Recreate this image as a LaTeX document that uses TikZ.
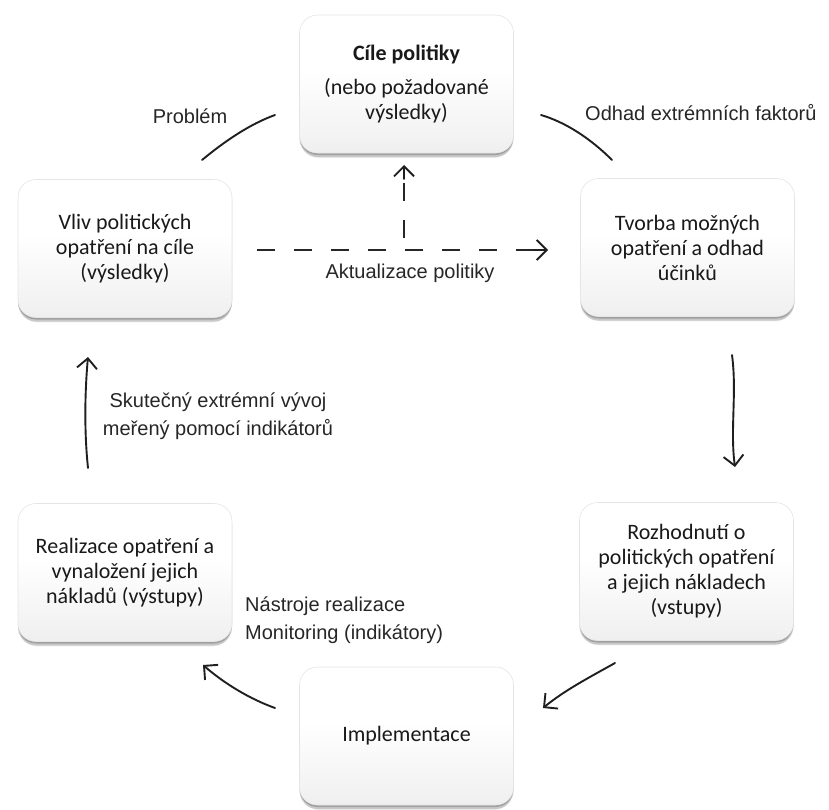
\documentclass[tikz,border=0pt]{standalone}
\usepackage{fontspec}
\setmainfont{Liberation Sans}
\newfontfamily\boxfont{Carlito}
\usetikzlibrary{arrows.meta,shadows,calc}
\pgfdeclareverticalshading{boxshade}{100bp}{color(0bp)=(black!14); color(30bp)=(black!5); color(55bp)=(white); color(100bp)=(white)}
\tikzset{
  cyclebox/.style={rounded corners=18pt, minimum width=214pt, minimum height=138pt,
    inner sep=0pt, align=center, text=black!90, draw=black!10, line width=0.6pt,
    shading=boxshade,
    font=\boxfont\fontsize{22}{25}\selectfont,
    drop shadow={shadow xshift=0pt, shadow yshift=-2pt, opacity=0.2, fill=black},
    drop shadow={shadow xshift=0pt, shadow yshift=-4pt, opacity=0.15, fill=black},
    drop shadow={shadow xshift=0pt, shadow yshift=-6pt, shadow scale=0.985, opacity=0.08, fill=black}},
  lbl/.style={font=\fontsize{20}{28}\selectfont, text=black!85, inner sep=0pt},
  conn/.style={line width=1.9pt, draw=black!88, line cap=round},
  tip/.style={-{Straight Barb[length=10pt,width=20pt,line width=1.9pt]}},
  dashline/.style={line width=1.9pt, draw=black!85, dash pattern=on 18pt off 19pt}
}
\begin{document}
\begin{tikzpicture}[x=1pt,y=-1pt]
\useasboundingbox (0,0) rectangle (829,809);

% boxes
\node[cyclebox] (goal) at (406.5,84) {\textbf{Cíle politiky}\\[9pt](nebo požadované\\výsledky)};
\node[cyclebox] (impact) at (125,248.5) {Vliv politických\\opatření na cíle\\(výsledky)};
\node[cyclebox] (create) at (687.5,247.5) {Tvorba možných\\opatření a odhad\\účinků};
\node[cyclebox] (realize) at (125,572.5) {Realizace opatření a\\vynaložení jejich\\nákladů (výstupy)};
\node[cyclebox] (decide) at (686.5,571.5) {Rozhodnutí o\\politických opatření\\a jejich nákladech\\(vstupy)};
\node[cyclebox] (impl) at (406.5,736) {Implementace};

% connector end points
\coordinate (p1) at (202,160);  \coordinate (p2) at (275,115);
\coordinate (o1) at (541,115);  \coordinate (o2) at (612,160);
\coordinate (r1) at (732,355);  \coordinate (r2) at (735,467);
\coordinate (d1) at (615,663);  \coordinate (d2) at (543,708);
\coordinate (i1) at (275,708);  \coordinate (i2) at (203,665);
\coordinate (l1) at (88,468);   \coordinate (l2) at (88,357);
\coordinate (h1) at (257,250);  \coordinate (h2) at (548,250);
\coordinate (v1) at (404,238);  \coordinate (v2) at (404,165);
\coordinate (h3) at (534,250);  \coordinate (v3) at (404,179);

% connectors
\draw[conn] (p1) .. controls (225,141) and (250,124) .. (p2);
\draw[conn] (o1) .. controls (565,122) and (590,138) .. (o2);
\draw[conn,tip] (r1) .. controls (737,392) and (730,430) .. (r2);
\draw[conn,tip] (d1) .. controls (590,677) and (565,690) .. (d2);
\draw[conn,tip] (i1) .. controls (250,699) and (225,684) .. (i2);
\draw[conn,tip] (l1) .. controls (84,430) and (85,390) .. (l2);
\draw[dashline] (h1) -- (h3);
\draw[conn,tip] (h3) -- (h2);
\draw[dashline] (v1) -- (v3);
\draw[conn,tip] (v3) -- (v2);

% labels
\node[lbl] (tproblem) at (190,116) {Problém};
\node[lbl, anchor=west] (todhad) at (585,113) {Odhad extrémních faktorů};
\node[lbl] (takt) at (410,273) {Aktualizace politiky};
\node[lbl, align=center] (tskut) at (218,416) {Skutečný extrémní vývoj\\meřený pomocí indikátorů};
\node[lbl, align=left, anchor=west] (tnastr) at (245,620) {Nástroje realizace\\Monitoring (indikátory)};
\end{tikzpicture}
\end{document}
